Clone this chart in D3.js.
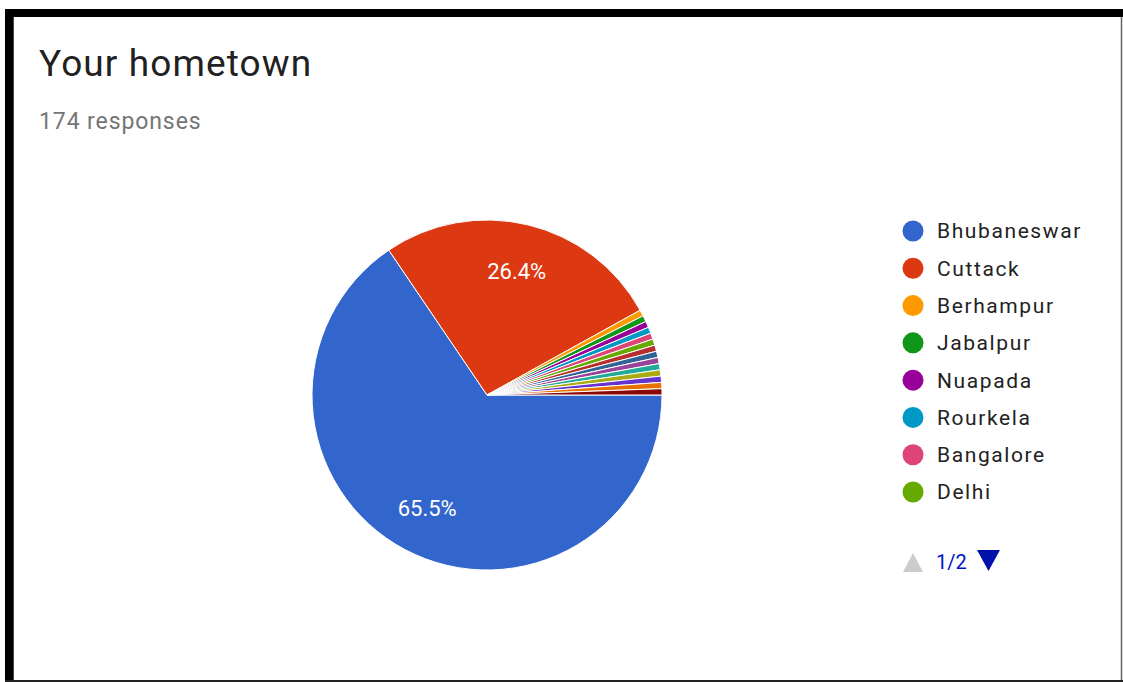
<!DOCTYPE html>
<html>
<head>
<meta charset="utf-8">
<script src="https://cdn.jsdelivr.net/npm/d3@7"></script>
<style>
  html, body { margin: 0; padding: 0; background: #fff; }
  svg { display: block; }
  text { font-family: Roboto, "Noto Sans", Arial, sans-serif; }
</style>
</head>
<body>
<svg id="chart" width="1123" height="682"></svg>
<script>
// Hometown survey responses (174 total)
const categories = [
  "Bhubaneswar", "Cuttack", "Berhampur", "Jabalpur", "Nuapada", "Rourkela",
  "Bangalore", "Delhi", "Sambalpur", "Balasore", "Puri", "Kolkata",
  "Hyderabad", "Mumbai", "Ranchi", "Angul"
];
const responses = [114, 46, 1, 1, 1, 1, 1, 1, 1, 1, 1, 1, 1, 1, 1, 1];
const palette = [
  "#3366cc", "#dc3912", "#ff9900", "#109618", "#990099", "#0099c6",
  "#dd4477", "#66aa00", "#b82e2e", "#316395", "#994499", "#22aa99",
  "#aaaa11", "#6633cc", "#e67300", "#8b0707"
];
const title = "Your hometown";
const subtitle = "174 responses";
const legendPageSize = 8;
const legendPage = 1;

const data = categories.map((name, i) => ({ name, value: responses[i], color: palette[i] }));
const total = d3.sum(responses);

const svg = d3.select("#chart");
const W = 1123, H = 682;

// card frame
svg.append("rect").attr("x", 0).attr("y", 0).attr("width", W).attr("height", H).attr("fill", "#fff");
svg.append("rect").attr("x", 5).attr("y", 9).attr("width", W - 5).attr("height", 8).attr("fill", "#000");
svg.append("rect").attr("x", 5).attr("y", 9).attr("width", 8).attr("height", H - 9).attr("fill", "#000");
svg.append("line").attr("x1", 13.5).attr("x2", 13.5).attr("y1", 17).attr("y2", H).attr("stroke", "#444").attr("stroke-width", 1);
svg.append("line").attr("x1", W - 1.5).attr("x2", W - 1.5).attr("y1", 17).attr("y2", H).attr("stroke", "#666").attr("stroke-width", 1.5);
svg.append("line").attr("x1", 5).attr("x2", W).attr("y1", H - 1).attr("y2", H - 1).attr("stroke", "#222").attr("stroke-width", 2);

// header
svg.append("text").attr("x", 39).attr("y", 76)
  .attr("font-size", 37).attr("letter-spacing", 1.1).attr("fill", "#212121").text(title);
svg.append("text").attr("x", 39).attr("y", 129)
  .attr("font-size", 23).attr("letter-spacing", 0.9).attr("fill", "#757575").text(subtitle);

// pie
const cx = 487, cy = 395, R = 175;
const pie = d3.pie().value(d => d.value).sort(null)
  .startAngle(Math.PI / 2).endAngle(Math.PI / 2 + 2 * Math.PI);
const arcs = pie(data);
const arc = d3.arc().innerRadius(0).outerRadius(R);
const labelArc = d3.arc().innerRadius(R * 0.73).outerRadius(R * 0.73);

const g = svg.append("g").attr("transform", `translate(${cx},${cy})`);
g.selectAll("path.slice").data(arcs).join("path")
  .attr("class", "slice")
  .attr("d", arc)
  .attr("fill", d => d.data.color)
  .attr("stroke", "#fff")
  .attr("stroke-width", 1)
  .attr("stroke-linejoin", "round");

const fmt = d3.format(".1%");
g.selectAll("text.pct").data(arcs.filter(d => d.data.value / total > 0.05)).join("text")
  .attr("class", "pct")
  .attr("transform", d => `translate(${labelArc.centroid(d)})`)
  .attr("text-anchor", "middle")
  .attr("dy", "0.36em")
  .attr("font-size", 22)
  .attr("fill", "#fff")
  .text(d => fmt(d.data.value / total));

// legend (first page)
const legendItems = data.slice((legendPage - 1) * legendPageSize, legendPage * legendPageSize);
const ly = d3.scalePoint().domain(legendItems.map(d => d.name)).range([231, 492]);
const lg = svg.append("g");
const rows = lg.selectAll("g.item").data(legendItems).join("g")
  .attr("class", "item")
  .attr("transform", d => `translate(0,${ly(d.name)})`);
rows.append("circle").attr("cx", 913).attr("cy", 0).attr("r", 10.5).attr("fill", d => d.color);
rows.append("text").attr("x", 937).attr("y", 0).attr("dy", "0.35em")
  .attr("font-size", 21).attr("letter-spacing", 1.6).attr("fill", "#222").text(d => d.name);

// pager
const pages = Math.ceil(data.length / legendPageSize);
svg.append("path").attr("d", "M903,572 L913,553 L923,572 Z").attr("fill", "#cccccc");
svg.append("text").attr("x", 936).attr("y", 569).attr("font-size", 20).attr("fill", "#0011cc")
  .text(`${legendPage}/${pages}`);
svg.append("path").attr("d", "M977,550 L1000,550 L988.5,571 Z").attr("fill", "#0011aa");
</script>
</body>
</html>
